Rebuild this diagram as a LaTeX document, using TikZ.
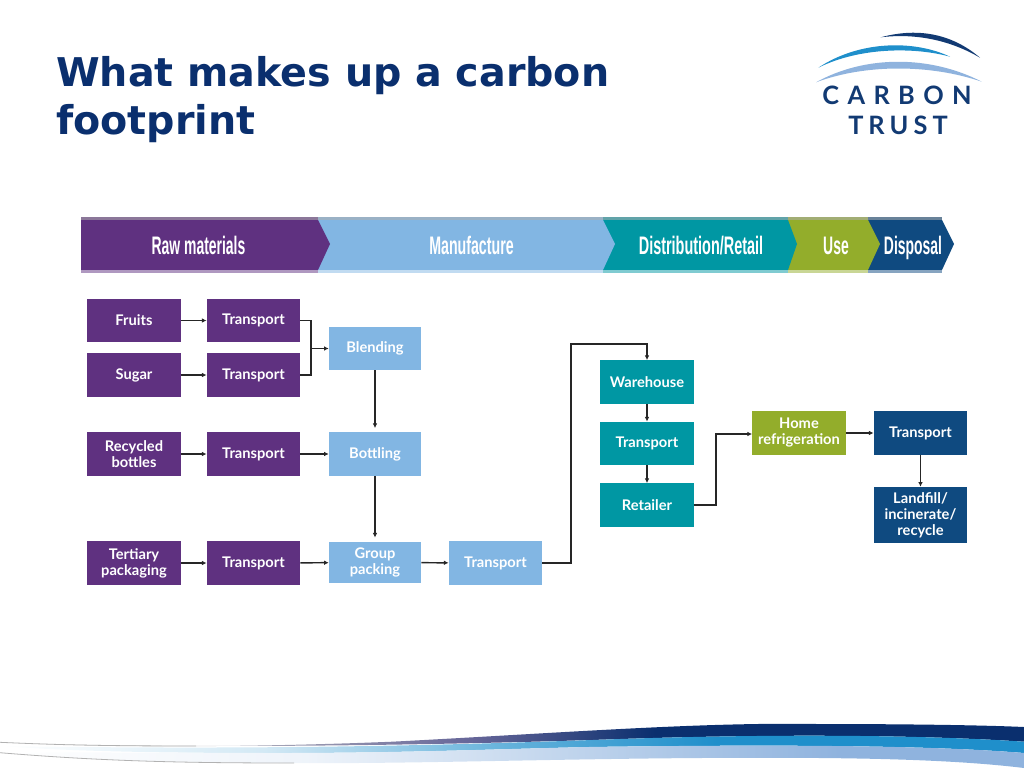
\documentclass[tikz,border=0pt]{standalone}
\usepackage{fontspec}
\setmainfont{Lato}
\newfontfamily\titlefont{DejaVu Sans}
\newfontfamily\bannerfont{Liberation Sans}
\usetikzlibrary{arrows.meta}
\definecolor{rawcol}{HTML}{5F3180}
\definecolor{mancol}{HTML}{82B6E3}
\definecolor{discol}{HTML}{0097A3}
\definecolor{usecol}{HTML}{93AD2B}
\definecolor{dspcol}{HTML}{0F4A80}
\definecolor{titlecol}{HTML}{0A2F6E}
\definecolor{logonavy}{HTML}{123A73}
\definecolor{logoblue}{HTML}{1F8FCB}
\definecolor{logopale}{HTML}{8FB3DE}
\pgfdeclarehorizontalshading{navyband}{100bp}{color(0bp)=(white); color(25bp)=(white); color(33bp)=(gray!45); color(48bp)=(gray!80!blue); color(57bp)=(titlecol); color(100bp)=(titlecol)}
\pgfdeclarehorizontalshading{blueband}{100bp}{color(0bp)=(white); color(25bp)=(white); color(38bp)=(logoblue!20); color(50bp)=(logoblue!70); color(60bp)=(logoblue); color(100bp)=(logoblue)}
\pgfdeclarehorizontalshading{paleband}{100bp}{color(0bp)=(white); color(25bp)=(white); color(40bp)=(logopale!15); color(54bp)=(logopale!60); color(66bp)=(logopale); color(100bp)=(logopale)}
\tikzset{
  stagebox/.style = {minimum width = 70pt, minimum height = 32.5pt, inner sep = 0pt,
    align = center, text = white, font = \fontsize{11}{12}\selectfont\bfseries},
  rawbox/.style = {stagebox, fill = rawcol},
  manbox/.style = {stagebox, fill = mancol, minimum width = 69pt},
  disbox/.style = {stagebox, fill = discol},
  usebox/.style = {stagebox, fill = usecol},
  dspbox/.style = {stagebox, fill = dspcol},
  link/.style = {line width = 1.1pt, draw = black!85, -{Latex[length = 3.5pt, width = 3.5pt]}},
  linkplain/.style = {line width = 1.1pt, draw = black!85},
  bannertext/.style = {text = white, inner sep = 0pt, anchor = base, font = \bannerfont\fontsize{19}{19}\selectfont\bfseries},
  logotext/.style = {text = logonavy, inner sep = 0pt, anchor = base}
}
\newcommand{\slim}[2]{\scalebox{#1}[1]{#2}}
\begin{document}
\begin{tikzpicture}[x = 0.75pt, y = -0.75pt]
  \useasboundingbox (0, 0) rectangle (1024, 768);

  % title
  \node [anchor = north west, inner sep = 0pt, align = left, text = titlecol,
    font = \titlefont\fontsize{29.7}{36}\selectfont\bfseries] (title) at (56, 56)
    {What makes up a carbon\\footprint};

  % logo
  \fill [logonavy] (880.7, 37.3) .. controls (915, 28) and (950, 32) .. (980, 57.7)
    .. controls (950, 40) and (915, 33) .. (880.7, 37.3);
  \fill [logoblue] (818.3, 67.7) .. controls (860, 40) and (915, 40) .. (950, 56.7)
    .. controls (915, 47) and (860, 47) .. (818.3, 67.7);
  \fill [logopale] (816, 82.3) .. controls (865, 55) and (930, 55) .. (981.7, 81.7)
    .. controls (930, 64) and (865, 64) .. (816, 82.3);
  \node [logotext, font = \fontsize{19}{19}\selectfont\bfseries\addfontfeature{LetterSpace = 33}] (carbon) at (897, 104) {CARBON};
  \node [logotext, font = \fontsize{19}{19}\selectfont\bfseries\addfontfeature{LetterSpace = 20}] (trust) at (898, 134) {TRUST};

  % banner, drawn from the right so that each tip lies on the next colour
  \foreach \a/\b/\c/\col in {868/942/954/dspcol, 788/868/880/usecol, 603/788/797/discol, 318/603/615/mancol, 81/318/330/rawcol}
  {
    \fill [\col] (\a, 220) -- (\b, 220) -- (\c, 244) -- (\b, 270) -- (\a, 270) -- cycle;
    \fill [\col!55!gray!80!white] (\a, 217) rectangle (\b, 220);
    \fill [\col!50!white] (\a, 270) rectangle (\b, 273);
  }
  \node [bannertext] (rawlabel) at (198.5, 254) {\slim{.55}{Raw materials}};
  \node [bannertext] (manlabel) at (471.5, 254) {\slim{.56}{Manufacture}};
  \node [bannertext] (dislabel) at (701, 254) {\slim{.57}{Distribution/Retail}};
  \node [bannertext] (uselabel) at (836, 254) {\slim{.55}{Use}};
  \node [bannertext] (dsplabel) at (913, 254) {\slim{.55}{Disposal}};

  % raw materials
  \node [rawbox] (fruits) at (134, 320.5) {Fruits};
  \node [rawbox] (sugar) at (134, 375) {Sugar};
  \node [rawbox] (bottles) at (134, 454) {Recycled\\bottles};
  \node [rawbox] (tertiary) at (134, 563) {Tertiary\\packaging};
  \node [rawbox] (trafruits) at (253.5, 320.5) {Transport};
  \node [rawbox] (trasugar) at (253.5, 375) {Transport};
  \node [rawbox] (trabottles) at (253.5, 454) {Transport};
  \node [rawbox] (tratertiary) at (253.5, 563) {Transport};

  % manufacture
  \node [manbox] (blending) at (375, 348.5) {Blending};
  \node [manbox] (bottling) at (375, 454) {Bottling};
  \node [manbox, minimum height = 31pt] (group) at (375, 562.5) {Group\\packing};
  \node [stagebox, fill = mancol] (trapacked) at (495.5, 563) {Transport};

  % distribution
  \node [disbox] (warehouse) at (647, 382) {Warehouse};
  \node [disbox] (trashop) at (647, 443.5) {Transport};
  \node [disbox] (retailer) at (647, 505) {Retailer};

  % use and disposal
  \node [usebox] (home) at (799, 433) {Home\\refrigeration};
  \node [dspbox] (trawaste) at (920.5, 433) {Transport};
  \node [dspbox, minimum height = 42pt] (landfill) at (920.5, 515) {Landfill/\\incinerate/\\recycle};

  \coordinate (blendjoin) at (311, 348.5);
  \coordinate (packedup) at (571, 344);
  \coordinate (retailup) at (716, 434);

  \draw [link] (fruits) -- (trafruits);
  \draw [link] (sugar) -- (trasugar);
  \draw [link] (bottles) -- (trabottles);
  \draw [link] (tertiary) -- (tratertiary);
  \draw [linkplain] (trafruits) -| (blendjoin);
  \draw [linkplain] (trasugar) -| (blendjoin);
  \draw [link] (blendjoin) -- (blending);
  \draw [link] (trabottles) -- (bottling);
  \draw [link] (tratertiary) -- (group);
  \draw [link, shorten > = 3pt] (blending) -- (bottling);
  \draw [link, shorten > = 3pt] (bottling) -- (group);
  \draw [link] (group) -- (trapacked);
  \draw [link] (trapacked) -| (packedup) -| (warehouse.north);
  \draw [link] (warehouse) -- (trashop);
  \draw [link] (trashop) -- (retailer);
  \draw [link] (retailer) -| (retailup) -- (home.west |- retailup);
  \draw [link] (home) -- (trawaste);
  \draw [link] (trawaste) -- (landfill);

  % footer
  \shade [shading = navyband] (0, 742.3) .. controls (120, 748) and (260, 747) .. (392, 741.7)
    .. controls (560, 733) and (700, 722) .. (817, 724) .. controls (900, 724) and (980, 725) .. (1024, 727)
    -- (1024, 741.7) .. controls (940, 736) and (800, 733) .. (620, 739)
    .. controls (480, 744) and (200, 750) .. (0, 742.3);
  \shade [shading = blueband] (0, 746) .. controls (200, 749) and (380, 748) .. (620, 739)
    .. controls (800, 733) and (940, 736) .. (1024, 741.7) -- (1024, 753)
    .. controls (940, 746) and (800, 744) .. (588, 747) .. controls (500, 749) and (400, 753) .. (280, 753)
    .. controls (180, 753) and (80, 752) .. (0, 746);
  \shade [shading = paleband] (0, 752.7) .. controls (100, 752) and (200, 753) .. (280, 753)
    .. controls (400, 753) and (500, 749) .. (588, 747) .. controls (800, 744) and (940, 746) .. (1024, 753)
    -- (1024, 768) .. controls (950, 759) and (850, 757) .. (700, 758)
    .. controls (550, 759) and (400, 764) .. (294, 763) .. controls (180, 763) and (100, 761) .. (0, 752.7);
  \draw [line width = 0.6pt, gray!60] (0, 742.3) .. controls (60, 745) and (110, 746) .. (196, 746);
  \draw [line width = 0.6pt, gray!60] (0, 752.7) .. controls (100, 761) and (180, 763) .. (294, 763);
\end{tikzpicture}
\end{document}
